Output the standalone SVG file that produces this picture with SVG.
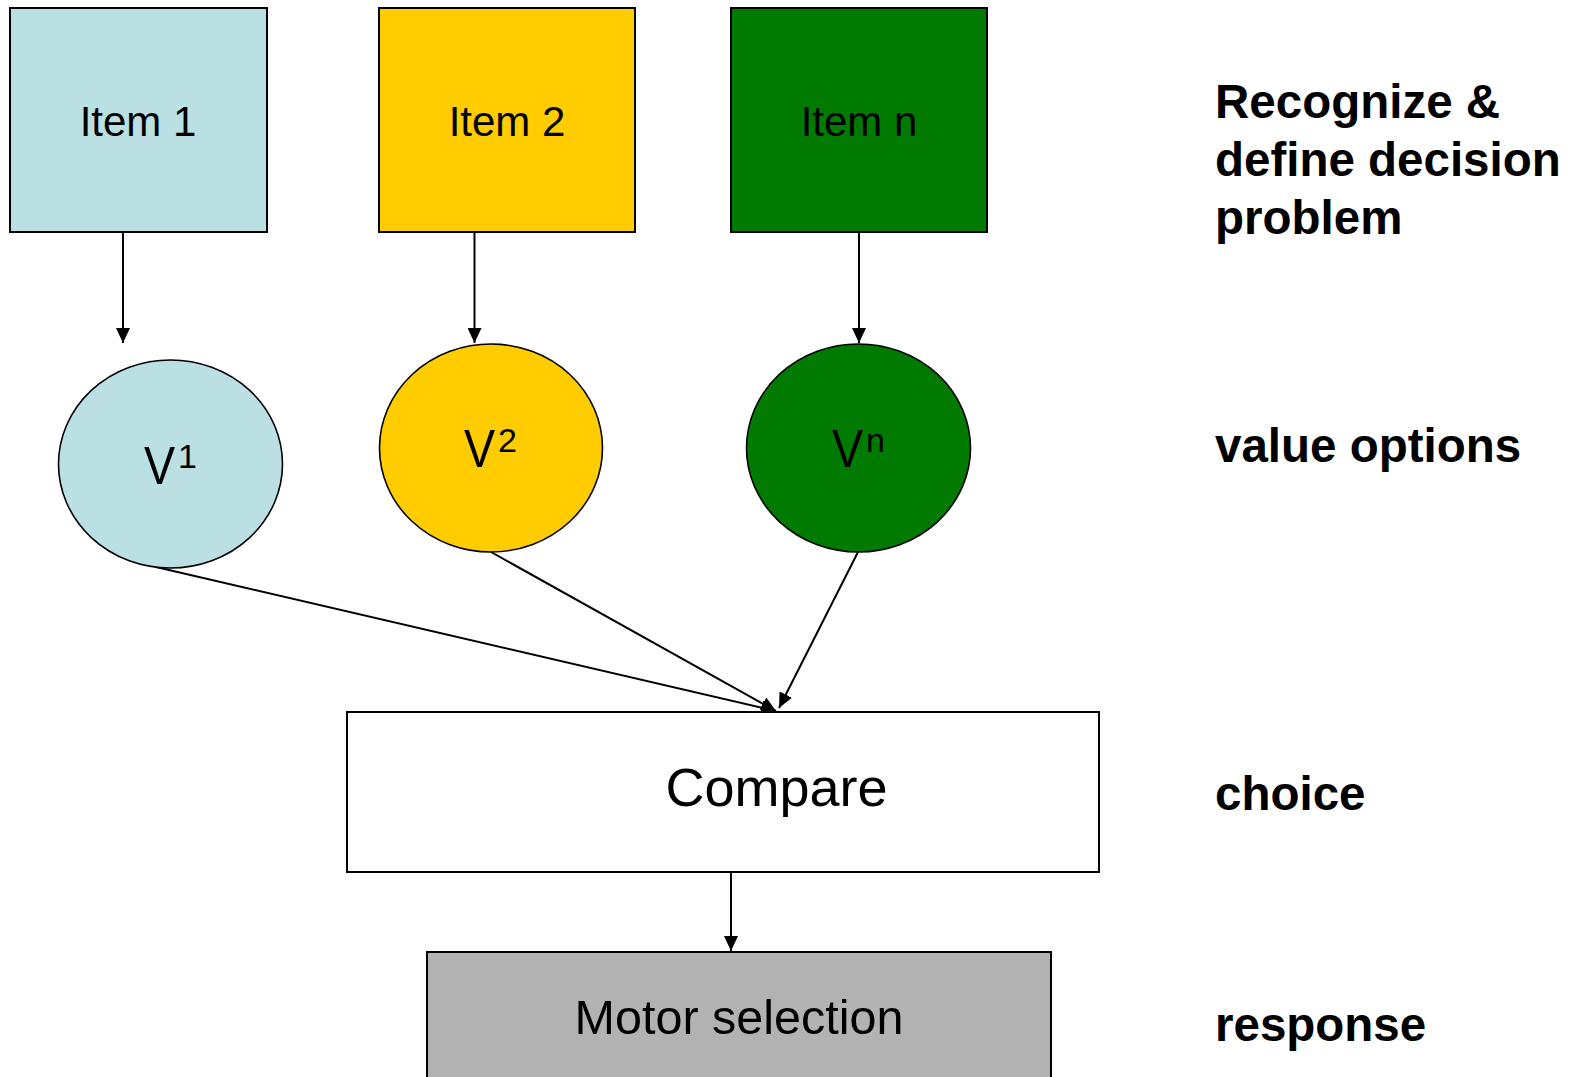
<svg xmlns="http://www.w3.org/2000/svg" width="1576" height="1077" viewBox="0 0 1576 1077">
  <style>
    .box { stroke: #000; stroke-width: 2; }
    .oval { stroke: #000; stroke-width: 1.6; }
    .lbl { font-family: "Liberation Sans", Arial, sans-serif; fill: #000; }
    .item { font-size: 42px; text-anchor: middle; }
    .v { font-size: 53px; }
    .sup { font-size: 34px; }
    .stage { font-size: 47.5px; font-weight: bold; }
    .edge { stroke: #000; stroke-width: 2; fill: none; marker-end: url(#head); }
  </style>
  <defs>
    <marker id="head" markerUnits="userSpaceOnUse" markerWidth="16" markerHeight="14" refX="15" refY="7" orient="auto">
      <path d="M0,0 L15,7 L0,14 Z" fill="#000"/>
    </marker>
  </defs>
  <rect width="1576" height="1077" fill="#fff"/>

  <!-- connectors -->
  <g id="connectors">
    <line class="edge" x1="123" y1="232" x2="123" y2="343"/>
    <line class="edge" x1="474.5" y1="232" x2="474.5" y2="343"/>
    <line class="edge" x1="859" y1="232" x2="859" y2="343"/>
    <line class="edge" x1="156" y1="567" x2="776" y2="711"/>
    <line class="edge" x1="491" y1="552" x2="776" y2="711"/>
    <line class="edge" x1="858" y1="552" x2="779" y2="708"/>
    <line class="edge" x1="731" y1="872" x2="731" y2="951"/>
  </g>

  <!-- items -->
  <g id="item1">
    <rect class="box" x="10" y="8" width="257" height="224" fill="#BAE0E3"/>
    <text class="lbl item" x="138" y="136">Item 1</text>
  </g>
  <g id="item2">
    <rect class="box" x="379" y="8" width="256" height="224" fill="#FFCC00"/>
    <text class="lbl item" x="507" y="136">Item 2</text>
  </g>
  <g id="itemn">
    <rect class="box" x="731" y="8" width="256" height="224" fill="#007A00"/>
    <text class="lbl item" x="859" y="136">Item n</text>
  </g>

  <!-- value nodes -->
  <g id="v1">
    <ellipse class="oval" cx="170.5" cy="464" rx="112" ry="104" fill="#BAE0E3"/>
    <text class="lbl v" transform="translate(144,484) scale(0.88,1)">V</text>
    <text class="lbl sup" x="178" y="468">1</text>
  </g>
  <g id="v2">
    <ellipse class="oval" cx="491" cy="448" rx="111.5" ry="104" fill="#FFCC00"/>
    <text class="lbl v" transform="translate(464,467) scale(0.88,1)">V</text>
    <text class="lbl sup" x="498" y="452">2</text>
  </g>
  <g id="vn">
    <ellipse class="oval" cx="858.5" cy="448" rx="112" ry="104" fill="#007A00"/>
    <text class="lbl v" transform="translate(832,467) scale(0.88,1)">V</text>
    <text class="lbl sup" x="866" y="452">n</text>
  </g>

  <!-- compare -->
  <g id="compare">
    <rect class="box" x="347" y="712" width="752" height="160" fill="#fff"/>
    <text class="lbl" x="776.5" y="806" font-size="54" text-anchor="middle">Compare</text>
  </g>

  <!-- motor selection -->
  <g id="motor">
    <rect class="box" x="427" y="952" width="624" height="140" fill="#B2B2B2"/>
    <text class="lbl" x="739" y="1034" font-size="48.5" text-anchor="middle">Motor selection</text>
  </g>

  <!-- stage labels -->
  <g id="stages">
    <text class="lbl stage" x="1215" y="118">Recognize &amp;</text>
    <text class="lbl stage" x="1215" y="176">define decision</text>
    <text class="lbl stage" x="1215" y="234">problem</text>
    <text class="lbl stage" x="1215" y="462">value options</text>
    <text class="lbl stage" x="1215" y="810">choice</text>
    <text class="lbl stage" x="1215" y="1041">response</text>
  </g>
</svg>
